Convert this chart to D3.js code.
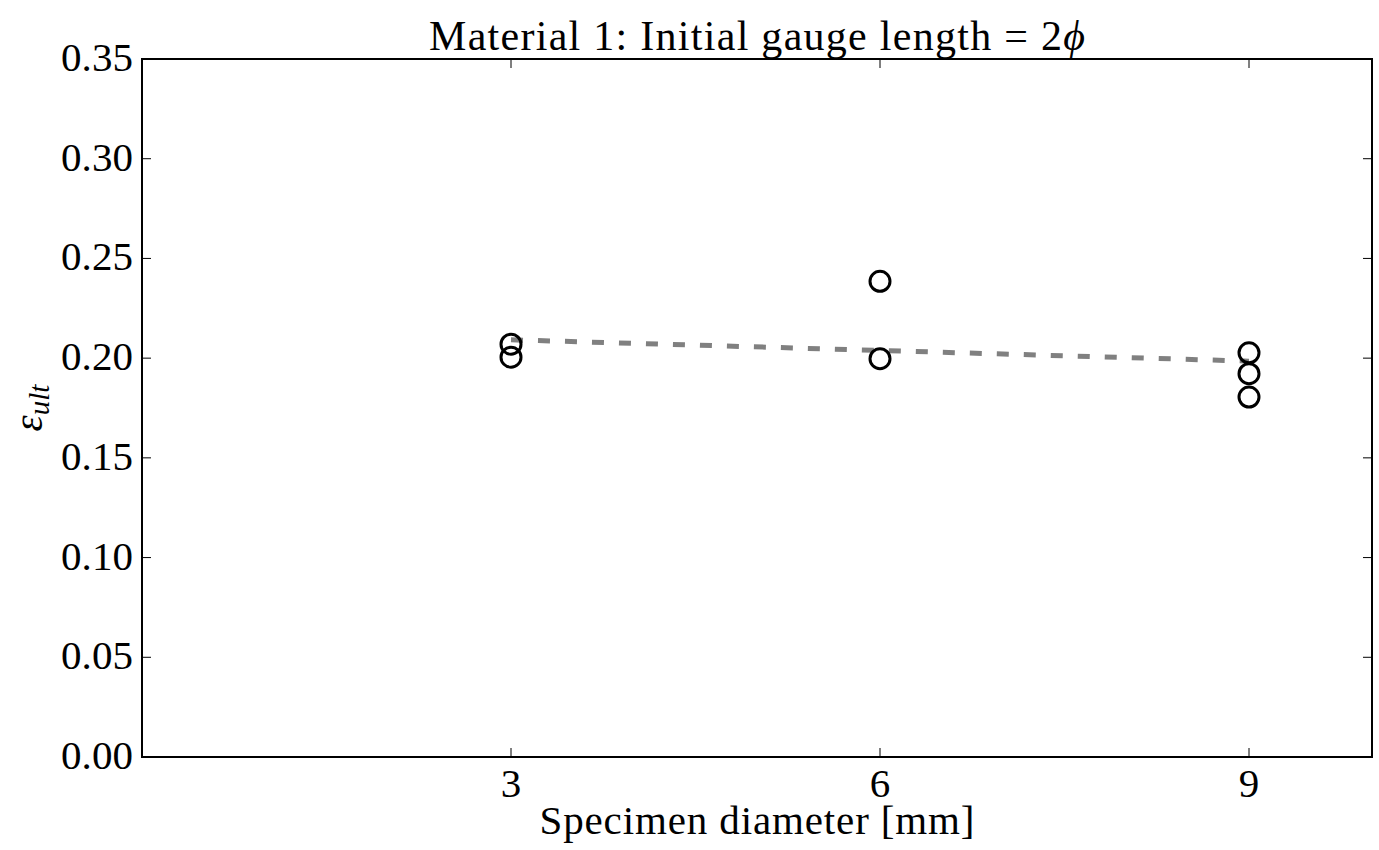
<!DOCTYPE html>
<html>
<head>
<meta charset="utf-8">
<script src="https://cdn.jsdelivr.net/npm/d3@7"></script>
<style>
  body { margin: 0; background: #fff; }
  text { font-family: "Liberation Serif", "DejaVu Serif", serif; fill: #000; }
</style>
</head>
<body>
<svg id="chart"></svg>
<script>
const width = 1379;
const height = 850;

// measured points: specimen diameter (mm) and ultimate strain
const diameters = [3, 3, 6, 6, 9, 9, 9];
const strains = [0.207, 0.2005, 0.2385, 0.1997, 0.2027, 0.1922, 0.1805];

// fitted trend line end points
const fitX = [3, 9];
const fitY = [0.2092, 0.1985];

const xTicks = [3, 6, 9];
const yTicks = [0, 0.05, 0.10, 0.15, 0.20, 0.25, 0.30, 0.35];

const margin = { top: 59, right: 7, bottom: 93, left: 142 };

const svg = d3.select("#chart")
    .attr("width", width)
    .attr("height", height);

const x = d3.scaleLinear()
    .domain([0, 10])
    .range([margin.left, width - margin.right]);

const y = d3.scaleLinear()
    .domain([0, 0.35])
    .range([height - margin.bottom, margin.top]);

const tickLen = 9;

// ticks, inward on all four sides
const g = svg.append("g");

g.selectAll("line.xt")
    .data(xTicks)
    .enter()
    .append("line")
    .attr("class", "xt")
    .attr("x1", d => x(d)).attr("x2", d => x(d))
    .attr("y1", y(0)).attr("y2", y(0) - tickLen)
    .attr("stroke", "#000").attr("stroke-width", 1);

g.selectAll("line.xtt")
    .data(xTicks)
    .enter()
    .append("line")
    .attr("class", "xtt")
    .attr("x1", d => x(d)).attr("x2", d => x(d))
    .attr("y1", y(0.35)).attr("y2", y(0.35) + tickLen)
    .attr("stroke", "#000").attr("stroke-width", 1);

g.selectAll("line.yt")
    .data(yTicks)
    .enter()
    .append("line")
    .attr("class", "yt")
    .attr("x1", x(0)).attr("x2", x(0) + tickLen)
    .attr("y1", d => y(d)).attr("y2", d => y(d))
    .attr("stroke", "#000").attr("stroke-width", 1);

g.selectAll("line.ytr")
    .data(yTicks)
    .enter()
    .append("line")
    .attr("class", "ytr")
    .attr("x1", x(10)).attr("x2", x(10) - tickLen)
    .attr("y1", d => y(d)).attr("y2", d => y(d))
    .attr("stroke", "#000").attr("stroke-width", 1);

// tick labels
g.selectAll("text.xl")
    .data(xTicks)
    .enter()
    .append("text")
    .attr("class", "xl")
    .attr("x", d => x(d))
    .attr("y", y(0) + 40)
    .attr("text-anchor", "middle")
    .style("font-size", "41px")
    .text(d => d);

g.selectAll("text.yl")
    .data(yTicks)
    .enter()
    .append("text")
    .attr("class", "yl")
    .attr("x", x(0) - 9)
    .attr("y", d => y(d) + 12)
    .attr("text-anchor", "end")
    .attr("textLength", 72)
    .attr("lengthAdjust", "spacing")
    .style("font-size", "41px")
    .text(d => d3.format(".2f")(d));

// fit line
const line = d3.line()
    .x(d => x(d[0]))
    .y(d => y(d[1]));

svg.append("path")
    .datum(d3.zip(fitX, fitY))
    .attr("d", line)
    .attr("fill", "none")
    .attr("stroke", "#808080")
    .attr("stroke-width", 5)
    .attr("stroke-dasharray", "12,15");

// data points
svg.selectAll("circle")
    .data(d3.zip(diameters, strains))
    .enter()
    .append("circle")
    .attr("cx", d => x(d[0]))
    .attr("cy", d => y(d[1]))
    .attr("r", 10)
    .attr("fill", "none")
    .attr("stroke", "#000")
    .attr("stroke-width", 3);

// frame
svg.append("rect")
    .attr("x", x(0))
    .attr("y", y(0.35))
    .attr("width", x(10) - x(0))
    .attr("height", y(0) - y(0.35))
    .attr("fill", "none")
    .attr("stroke", "#000")
    .attr("stroke-width", 2);

// title
const title = svg.append("text")
    .attr("x", (x(0) + x(10)) / 2)
    .attr("y", 50)
    .attr("text-anchor", "middle")
    .attr("textLength", 656)
    .attr("lengthAdjust", "spacing")
    .style("font-size", "42px");
title.append("tspan").text("Material 1: Initial gauge length = 2");
title.append("tspan").style("font-style", "italic").text("ϕ");

// x label
svg.append("text")
    .attr("x", (x(0) + x(10)) / 2)
    .attr("y", 834)
    .attr("text-anchor", "middle")
    .attr("textLength", 435)
    .attr("lengthAdjust", "spacing")
    .style("font-size", "41px")
    .text("Specimen diameter [mm]");

// y label
const yLabel = svg.append("text")
    .attr("transform", `translate(42,${(y(0) + y(0.35)) / 2}) rotate(-90)`)
    .attr("text-anchor", "middle")
    .style("font-style", "italic");
yLabel.append("tspan").style("font-size", "41px").text("ε");
yLabel.append("tspan").style("font-size", "29px").attr("dy", 7).text("ult");
</script>
</body>
</html>
